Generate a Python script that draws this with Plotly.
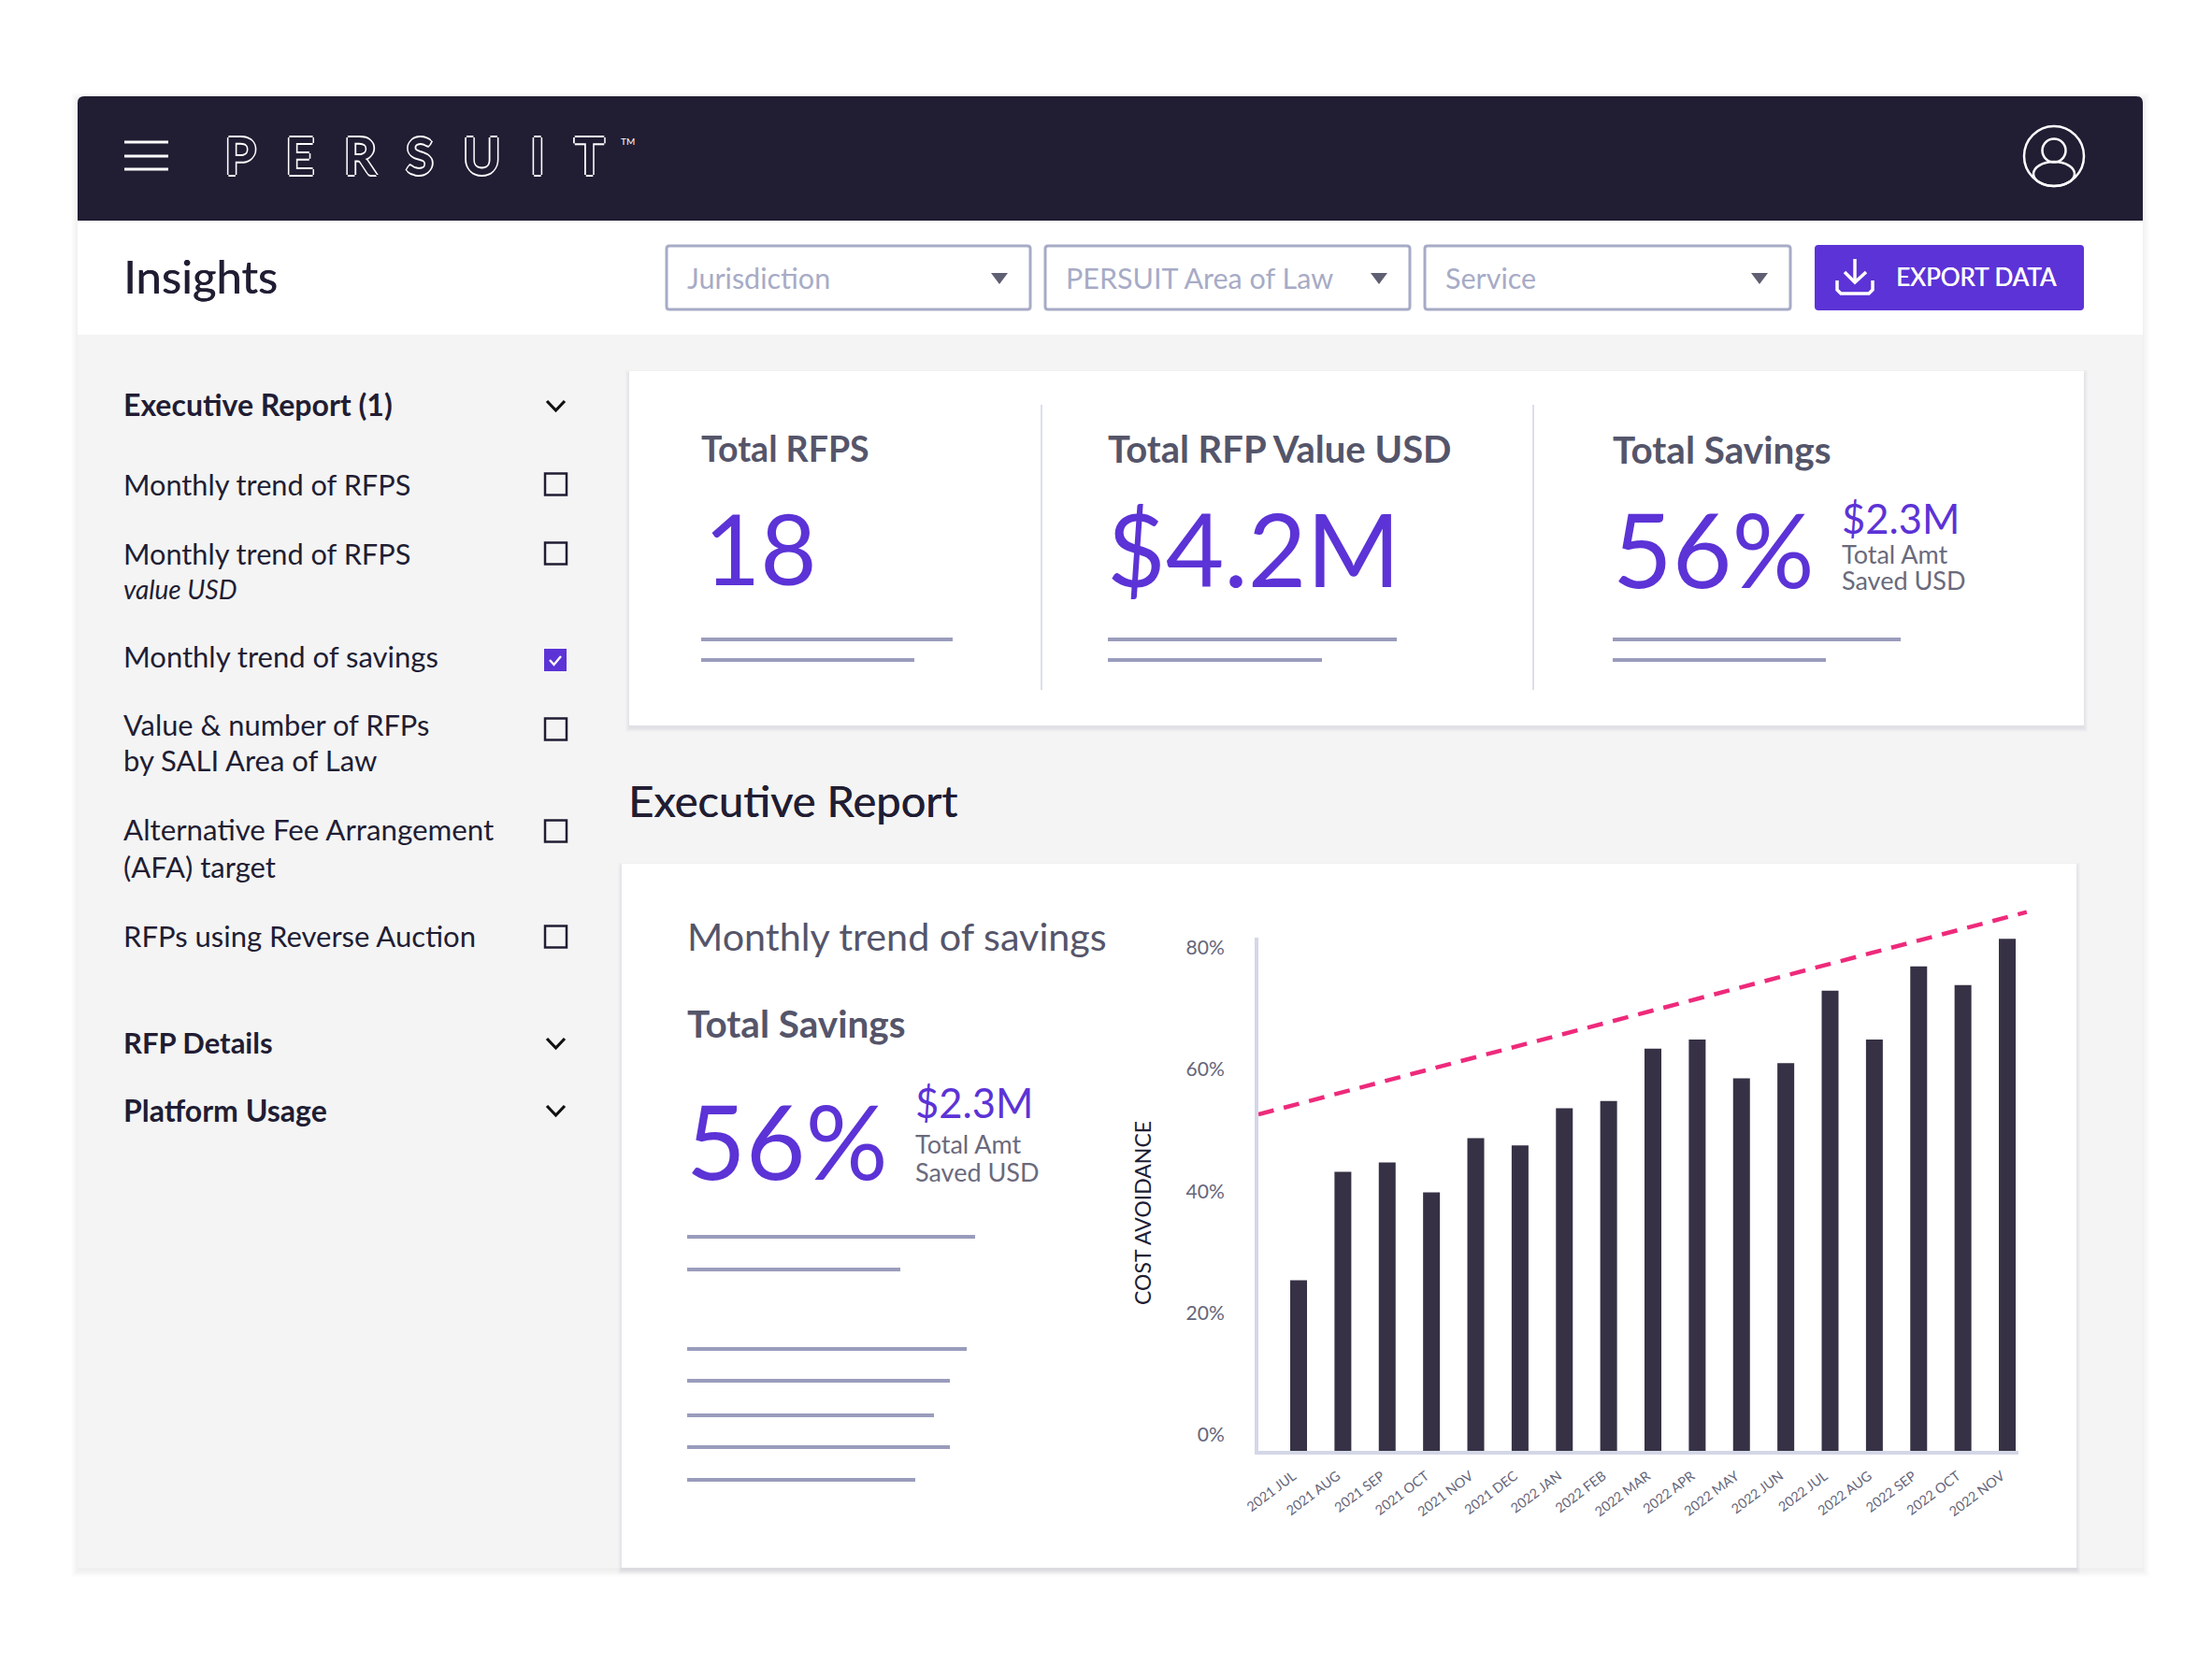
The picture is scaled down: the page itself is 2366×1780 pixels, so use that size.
import plotly.graph_objects as go

W, H = 2366, 1780
DARK = "#211d33"
PURPLE = "#5c33d6"
GREY_TXT = "#55556a"
SOFT_TXT = "#6a6a7c"
LINE = "#9a9cbc"
BORDER = "#a7abc6"

# ---- chart data ----
months = ["2021 JUL", "2021 AUG", "2021 SEP", "2021 OCT", "2021 NOV", "2021 DEC",
          "2022 JAN", "2022 FEB", "2022 MAR", "2022 APR", "2022 MAY", "2022 JUN",
          "2022 JUL", "2022 AUG", "2022 SEP", "2022 OCT", "2022 NOV"]
month_pos = list(range(len(months)))
savings = [28.0, 45.8, 47.3, 42.4, 51.3, 50.1, 56.2, 57.4, 66.0, 67.5,
           61.1, 63.6, 75.5, 67.5, 79.5, 76.4, 84.0]
trend_x = [-0.908, 16.44]
trend_values = [55.2, 88.4]
y_ticks = [0, 20, 40, 60, 80]
y_labels = ["0%", "20%", "40%", "60%", "80%"]

# ---- page text ----
sidebar_rows = [
    ("Executive Report (1)", 433, 32, True, False),
    ("Monthly trend of RFPS", 518, 30.7, False, False),
    ("Monthly trend of RFPS", 592, 30.7, False, False),
    ("value USD", 630, 28, False, True),
    ("Monthly trend of savings", 702, 31, False, False),
    ("Value & number of RFPs", 775, 30.8, False, False),
    ("by SALI Area of Law", 813, 31, False, False),
    ("Alternative Fee Arrangement", 887, 31.3, False, False),
    ("(AFA) target", 927, 31, False, False),
    ("RFPs using Reverse Auction", 1001, 31, False, False),
    ("RFP Details", 1115, 31, True, False),
    ("Platform Usage", 1187, 32, True, False),
]
dropdowns = ["Jurisdiction", "PERSUIT Area of Law", "Service"]


def fx(px):
    return px / W


def fy(py):
    return 1 - py / H


shapes = []
annotations = []


def rect(x0, y0, x1, y1, fill=None, line=None, lw=0):
    shapes.append(dict(type="rect", xref="paper", yref="paper", x0=fx(x0), x1=fx(x1),
                       y0=fy(y0), y1=fy(y1), fillcolor=fill or "rgba(0,0,0,0)",
                       line=dict(color=line or "rgba(0,0,0,0)", width=lw), layer="below"))


def rrect(x0, y0, x1, y1, r, fill=None, line=None, lw=0, bottom=True):
    def P(x, y):
        return f"{fx(x):.5f},{fy(y):.5f}"
    d = f"M {P(x0, y0 + r)} Q {P(x0, y0)} {P(x0 + r, y0)} L {P(x1 - r, y0)} Q {P(x1, y0)} {P(x1, y0 + r)} "
    if bottom:
        d += f"L {P(x1, y1 - r)} Q {P(x1, y1)} {P(x1 - r, y1)} L {P(x0 + r, y1)} Q {P(x0, y1)} {P(x0, y1 - r)} Z"
    else:
        d += f"L {P(x1, y1)} L {P(x0, y1)} Z"
    shapes.append(dict(type="path", xref="paper", yref="paper", path=d, layer="below",
                       fillcolor=fill or "rgba(0,0,0,0)",
                       line=dict(color=line or "rgba(0,0,0,0)", width=lw)))


def poly(points, color=None, lw=0, fill=None, closed=False):
    d = "M " + " L ".join(f"{fx(x):.5f},{fy(y):.5f}" for x, y in points) + (" Z" if closed else "")
    shapes.append(dict(type="path", xref="paper", yref="paper", path=d,
                       fillcolor=fill or "rgba(0,0,0,0)",
                       line=dict(color=color or "rgba(0,0,0,0)", width=lw), layer="below"))


def ellipse(cx, cy, rx, ry, color, lw):
    shapes.append(dict(type="circle", xref="paper", yref="paper", x0=fx(cx - rx), x1=fx(cx + rx),
                       y0=fy(cy - ry), y1=fy(cy + ry), fillcolor="rgba(0,0,0,0)",
                       line=dict(color=color, width=lw), layer="below"))


def label(text, x, y, size, color=DARK, weight=400, anchor="left", style="normal", family="Lato", shadow=None, angle=0):
    font = dict(family=family, size=size, color=color, weight=weight, style=style)
    if shadow:
        font["shadow"] = shadow
    annotations.append(dict(text=text, xref="paper", yref="paper", x=fx(x), y=fy(y), xanchor=anchor,
                            yanchor="middle", showarrow=False, font=font, borderpad=0, textangle=angle))


def medium(color):
    return f"0.5px 0 {color}"


def shadow(x0, y0, x1, y1, spread=6, dy=3, alpha=0.012):
    for k in range(spread, 0, -1):
        rect(x0 - k + 1, y0 - k + dy + 2, x1 + k - 1, y1 + k + dy, fill=f"rgba(30,30,50,{alpha})")


# ---- dashboard frame ----
shadow(83, 103, 2292, 1677, spread=8, dy=2, alpha=0.006)
rect(83, 358, 2292, 1677, fill="#f4f4f4")
rect(83, 236, 2292, 358, fill="#ffffff")
rrect(83, 103, 2292, 236, 7, fill=DARK, bottom=False)

# header
for hy in (152, 167, 181):
    rect(133, hy - 1.5, 180, hy + 1.5, fill="#ffffff")
label("P\u2002\u200aE\u2002\u200aR\u2002\u200aS\u2002\u200aU\u2002\u200aI\u2002\u200aT", 239, 166, 55, color=DARK, weight=700,
      shadow="1.6px 0 #fff, -1.6px 0 #fff, 0 1.6px #fff, 0 -1.6px #fff")
label("TM", 671, 151, 10, color="#ffffff", anchor="center")
ellipse(2197, 167, 32, 32, "#ffffff", 2.5)
ellipse(2197, 161, 12.5, 12.5, "#ffffff", 2.5)
ellipse(2197, 186, 22, 13, "#ffffff", 2.5)

# toolbar
label("Insights", 131, 295, 49, shadow=medium(DARK))
for (x0, x1), name in zip([(713, 1102), (1118, 1508), (1524, 1915)], dropdowns):
    rrect(x0, 263, x1, 331, 3, fill="#ffffff", line=BORDER, lw=3)
    label(name, x0 + 21, 297, 30.5, color=BORDER)
    cx = x1 - 33
    poly([(cx - 9, 292), (cx + 9, 292), (cx, 304)], fill="#5f5f73", closed=True)
rrect(1941, 262, 2229, 332, 4, fill=PURPLE)
poly([(1984, 277), (1984, 302)], "#ffffff", 3.5)
poly([(1973, 291), (1984, 302), (1996, 291)], "#ffffff", 3.5)
poly([(1965, 300), (1965, 310), (1969, 314), (1999, 314), (2003, 310), (2003, 300)], "#ffffff", 3.5)
label("EXPORT DATA", 2027, 296, 26, color="#ffffff", shadow=medium("#ffffff"))

# sidebar
for text, y, size, bold, ital in sidebar_rows:
    label(text, 131, y, size, weight=700 if bold else 400, style="italic" if ital else "normal")
for cy in (434, 1116, 1188):
    poly([(585, cy - 5), (594.5, cy + 5), (604, cy - 5)], "#111111", 3.2)
for cy in (518, 592, 780, 889, 1002):
    rect(583, cy - 11.5, 606, cy + 11.5, line=DARK, lw=2.5)
rect(582, 694, 606, 718, fill=PURPLE)
poly([(588, 706), (592.5, 711), (600, 702)], "#ffffff", 2.4)

# KPI card
shadow(673, 397, 2229, 776, spread=5, dy=2, alpha=0.014)
rect(673, 397, 2229, 776, fill="#ffffff")
for dx in (1114, 1640):
    rect(dx - 1, 433, dx + 1, 738, fill="#dcdeea")
label("Total RFPS", 749, 479, 37.5, color=GREY_TXT, weight=700)
label("Total RFP Value USD", 1184, 480, 40, color=GREY_TXT, weight=700)
label("Total Savings", 1724, 480, 40.5, color=GREY_TXT, weight=700)
label("18", 752, 586, 104, color=PURPLE)
label("$4.2M", 1183, 586, 108, color=PURPLE)
label("56%", 1724, 586, 110, color=PURPLE)
label("$2.3M", 1969, 553.5, 43.5, color=PURPLE)
label("Total Amt", 1969, 592, 27, color=SOFT_TXT)
label("Saved USD", 1969, 621, 27, color=SOFT_TXT)
for xa, xb, xc in [(750, 1019, 978), (1185, 1494, 1414), (1725, 2033, 1953)]:
    rect(xa, 682, xb, 686, fill=LINE)
    rect(xa, 704, xc, 708, fill=LINE)

label("Executive Report", 671, 856, 47, shadow=medium(DARK))

# chart card
shadow(665, 924, 2221, 1677, spread=5, dy=2, alpha=0.014)
rect(665, 924, 2221, 1677, fill="#ffffff")
label("Monthly trend of savings", 734, 1001, 41.3, color=GREY_TXT)
label("Total Savings", 734, 1094, 40.5, color=GREY_TXT, weight=700)
label("56%", 733, 1219, 110, color=PURPLE)
label("$2.3M", 978, 1179, 43.5, color=PURPLE)
label("Total Amt", 978, 1223, 27, color=SOFT_TXT)
label("Saved USD", 978, 1253, 27, color=SOFT_TXT)
for ly, xb in [(1323, 1043), (1358, 963), (1443, 1034), (1477, 1016), (1514, 999), (1548, 1016), (1583, 979)]:
    rect(735, ly - 2, xb, ly + 2, fill=LINE)
label("COST AVOIDANCE", 1222, 1298, 23, color=DARK, anchor="center", angle=-90)

# ---- figure ----
AX_LEFT, AX_RIGHT, AX_TOP, AX_BOTTOM = 1346, 2159, 1003, 1552
X_RANGE = [-0.908, 16.253]
Y_RANGE = [0, 84.2]
# the dashed trend runs past the bar axes, so it sits on a hidden wider pair of axes at the same scale
OV_RIGHT, OV_TOP = 2200, 950
x_per_px = (X_RANGE[1] - X_RANGE[0]) / (AX_RIGHT - AX_LEFT)
y_per_px = (Y_RANGE[1] - Y_RANGE[0]) / (AX_BOTTOM - AX_TOP)

fig = go.Figure()
fig.add_trace(go.Bar(x=month_pos, y=savings, width=0.38, marker=dict(color="#373145", line=dict(width=0)),
                     showlegend=False))
fig.add_trace(go.Scatter(x=trend_x, y=trend_values, mode="lines", showlegend=False, xaxis="x2", yaxis="y2",
                         line=dict(color="#ee2a7b", width=4.5, dash="17px,11px")))

fig.update_layout(
    width=W, height=H, margin=dict(l=0, r=0, t=0, b=0, pad=0, autoexpand=False),
    paper_bgcolor="#ffffff", plot_bgcolor="rgba(0,0,0,0)", shapes=shapes, annotations=annotations,
    font=dict(family="Lato"), hovermode=False, bargap=0.6,
    xaxis=dict(domain=[fx(AX_LEFT), fx(AX_RIGHT)], range=X_RANGE, tickmode="array",
               tickvals=month_pos, ticktext=months, tickangle=-37, showgrid=False, zeroline=False,
               showline=True, linecolor="#d3d7e6", linewidth=4, ticks="", automargin=False,
               ticklabelstandoff=9, ticklabelshift=-6,
               tickfont=dict(family="Lato", size=14.5, color="#66667a")),
    yaxis=dict(domain=[fy(AX_BOTTOM), fy(AX_TOP)], range=Y_RANGE, tickmode="array",
               tickvals=y_ticks, ticktext=y_labels, showgrid=False, zeroline=False,
               showline=True, linecolor="#d3d7e6", linewidth=4, ticks="", automargin=False,
               ticklabelstandoff=28, ticklabelshift=-17,
               tickfont=dict(family="Lato", size=21, color="#66667a")),
    xaxis2=dict(domain=[fx(AX_LEFT), fx(OV_RIGHT)], visible=False, anchor="y2",
                range=[X_RANGE[0], X_RANGE[0] + (OV_RIGHT - AX_LEFT) * x_per_px]),
    yaxis2=dict(domain=[fy(AX_BOTTOM), fy(OV_TOP)], visible=False, anchor="x2",
                range=[0, (AX_BOTTOM - OV_TOP) * y_per_px]),
)

fig.write_html("out.html", config=dict(displayModeBar=False),
               post_script="document.body.style.margin='0';document.body.style.overflow='hidden';")
